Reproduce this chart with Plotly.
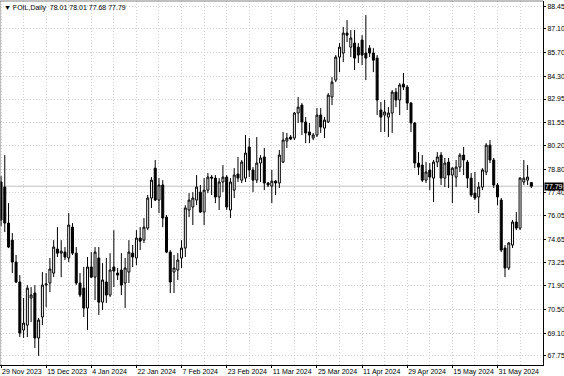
import plotly.graph_objects as go

opens = [78.04, 77.74, 75.61, 74.60, 73.30, 72.12, 69.28, 69.57, 71.17, 71.47,
         68.81, 70.05, 71.94, 72.06, 72.65, 74.07, 73.83, 73.89, 73.54, 75.37,
         73.83, 72.06, 71.76, 70.58, 73.01, 72.41, 73.54, 70.93, 72.12, 71.35,
         73.01, 72.65, 72.83, 72.06, 72.71, 73.83, 73.54, 74.72, 74.60, 75.31,
         77.09, 78.86, 76.97, 77.86, 75.96, 73.89, 72.71, 72.83, 73.54, 74.13,
         76.38, 76.56, 76.97, 77.44, 76.26, 77.56, 78.33, 78.27, 77.15, 78.04,
         78.33, 76.38, 77.56, 78.51, 78.15, 78.27, 80.11, 78.75, 78.15, 79.16,
         79.52, 77.98, 77.80, 78.09, 77.98, 79.22, 80.46, 80.70, 80.64, 82.12,
         82.59, 81.59, 81.00, 80.64, 80.82, 82.00, 81.23, 81.59, 83.07, 84.07,
         85.43, 85.67, 86.85, 86.02, 86.26, 86.02, 86.44, 85.67, 85.96, 85.67,
         85.37, 82.30, 82.00, 81.88, 82.12, 83.36, 82.89, 83.83, 83.66, 82.71,
         81.53, 79.16, 79.04, 78.15, 78.75, 78.27, 79.22, 79.63, 78.27, 79.22,
         78.45, 78.33, 78.92, 79.63, 79.22, 78.27, 77.38, 77.15, 77.74, 78.63,
         80.22, 79.34, 77.86, 76.97, 74.13, 72.95, 74.31, 75.67, 75.31, 78.04,
         78.15, 78.01]
highs = [78.39, 79.63, 76.79, 75.02, 73.72, 72.53, 71.17, 71.94, 71.82, 71.94,
         69.99, 72.71, 72.65, 73.54, 74.60, 75.37, 74.60, 74.19, 76.20, 75.61,
         74.19, 72.65, 73.01, 73.60, 73.89, 74.19, 74.19, 73.24, 73.54, 73.83,
         75.19, 72.95, 73.83, 73.54, 74.60, 74.31, 75.19, 75.37, 75.91, 77.27,
         78.33, 79.34, 78.27, 78.15, 76.09, 74.01, 73.72, 73.83, 74.60, 76.67,
         77.38, 77.44, 78.45, 77.86, 78.27, 78.57, 78.45, 78.45, 78.27, 79.04,
         78.45, 78.27, 78.86, 79.52, 79.34, 80.82, 80.64, 78.92, 80.70, 79.63,
         80.05, 78.04, 78.75, 78.15, 79.93, 81.00, 80.94, 80.82, 82.18, 83.07,
         82.71, 81.88, 81.53, 80.94, 82.41, 82.41, 81.88, 83.30, 84.25, 85.55,
         86.26, 87.21, 87.62, 87.03, 87.03, 86.26, 86.73, 87.92, 86.14, 85.96,
         85.55, 82.77, 82.89, 82.47, 83.48, 83.60, 83.89, 84.49, 83.78, 82.77,
         81.59, 79.81, 79.63, 79.22, 79.16, 79.34, 79.81, 79.81, 79.46, 79.46,
         78.92, 79.34, 79.75, 80.11, 79.34, 78.57, 78.63, 78.04, 78.86, 80.34,
         80.52, 79.46, 77.98, 77.09, 74.31, 74.49, 75.79, 76.26, 78.33, 79.34,
         79.04, 78.01]
lows = [75.43, 75.08, 74.13, 72.65, 72.06, 68.86, 68.81, 68.86, 69.75, 68.21,
        67.75, 69.57, 70.64, 71.53, 72.41, 73.60, 72.41, 73.42, 73.30, 73.72,
        71.94, 71.23, 70.05, 69.28, 72.35, 71.05, 70.17, 70.46, 70.88, 71.23,
        71.82, 72.24, 71.35, 70.58, 72.06, 73.01, 73.12, 74.01, 74.43, 75.19,
        76.50, 76.91, 76.20, 75.37, 73.83, 71.47, 71.47, 72.24, 72.95, 73.60,
        75.96, 75.49, 76.67, 76.20, 75.49, 77.38, 77.27, 76.79, 76.38, 77.44,
        76.38, 75.91, 77.09, 78.04, 77.98, 78.04, 78.33, 77.44, 77.98, 78.04,
        77.56, 77.74, 76.79, 77.27, 77.68, 79.16, 80.05, 80.52, 80.52, 81.53,
        80.82, 80.34, 80.34, 80.52, 80.70, 80.94, 80.64, 81.53, 82.59, 83.95,
        84.54, 85.14, 86.32, 85.43, 84.66, 85.08, 84.96, 84.07, 85.43, 84.54,
        82.00, 81.00, 81.00, 80.70, 80.94, 82.47, 82.00, 83.48, 82.30, 81.00,
        78.86, 78.45, 78.04, 77.98, 77.56, 76.85, 78.92, 77.86, 77.74, 77.68,
        76.79, 77.74, 78.63, 78.45, 77.68, 77.15, 76.97, 76.20, 77.56, 78.45,
        79.16, 77.68, 76.67, 73.89, 72.41, 72.83, 74.13, 75.19, 75.19, 77.86,
        77.86, 77.68]
closes = [75.79, 75.61, 74.19, 73.30, 72.12, 69.10, 69.69, 71.76, 71.35, 68.81,
          69.87, 71.94, 72.00, 72.89, 74.19, 73.83, 73.95, 73.60, 75.49, 73.83,
          72.06, 71.35, 70.58, 73.01, 72.41, 73.89, 70.93, 72.24, 71.35, 72.83,
          72.77, 72.53, 71.94, 72.95, 73.89, 73.60, 74.72, 74.54, 75.37, 77.09,
          78.15, 76.97, 77.86, 75.91, 73.89, 72.12, 72.95, 73.42, 74.13, 76.50,
          76.97, 77.09, 77.74, 76.26, 77.56, 78.33, 78.27, 77.15, 78.04, 78.33,
          76.56, 78.04, 78.45, 78.27, 79.22, 79.75, 78.75, 78.15, 79.16, 79.46,
          77.98, 77.86, 78.09, 77.98, 79.63, 80.52, 80.64, 80.58, 82.12, 82.47,
          81.59, 80.94, 80.82, 80.82, 82.00, 81.29, 81.70, 83.18, 83.95, 85.43,
          86.02, 86.85, 86.73, 86.56, 85.37, 85.55, 85.55, 85.37, 85.67, 85.25,
          82.89, 81.88, 82.18, 82.12, 83.36, 82.89, 83.78, 83.66, 82.71, 81.53,
          79.16, 78.92, 78.15, 78.63, 78.33, 79.22, 79.52, 78.27, 79.16, 78.45,
          78.86, 78.92, 79.63, 79.34, 78.27, 77.27, 77.09, 77.74, 78.75, 80.22,
          79.34, 77.86, 77.15, 74.01, 72.95, 74.43, 75.67, 75.31, 78.27, 78.27,
          78.33, 77.79]

tick_bars = [0, 12, 24, 36, 48, 60, 72, 84, 96, 108, 120, 132]
tick_labels = ["29 Nov 2023", "15 Dec 2023", "4 Jan 2024", "22 Jan 2024",
               "7 Feb 2024", "23 Feb 2024", "11 Mar 2024", "25 Mar 2024",
               "11 Apr 2024", "29 Apr 2024", "15 May 2024", "31 May 2024"]
grid_bars = [6, 18, 30, 42, 54, 66, 78, 90, 102, 114, 126, 138]
price_ticks = [88.45, 87.10, 85.70, 84.30, 82.95, 81.55, 80.20, 78.80,
               77.40, 76.05, 74.65, 73.25, 71.90, 70.50, 69.10, 67.75]
symbol = "FOIL,Daily"

x = list(range(len(opens)))
FONT = "Liberation Sans, DejaVu Sans, sans-serif"
GRID = "#d0d0d0"
DASH = "1px,2px"

fig = go.Figure(go.Candlestick(
    x=x, open=opens, high=highs, low=lows, close=closes,
    increasing=dict(line=dict(color="black", width=1), fillcolor="white"),
    decreasing=dict(line=dict(color="black", width=1), fillcolor="black"),
    whiskerwidth=0, hoverinfo="skip", showlegend=False,
))

last = closes[-1]
fig.update_layout(
    width=564, height=376,
    margin=dict(l=0, r=21, t=1, b=11, autoexpand=False),
    paper_bgcolor="white", plot_bgcolor="white",
    font=dict(family=FONT, size=7, color="black"),
    boxgap=0.25,
    xaxis=dict(
        range=[-0.27, 144.1], tickmode="array", tickvals=tick_bars, ticktext=tick_labels,
        tickangle=0, ticklabelposition="outside right", ticks="outside", ticklen=2,
        tickcolor="black",
        showgrid=True, gridcolor=GRID, griddash=DASH, gridwidth=1,
        minor=dict(tickmode="array", tickvals=grid_bars, showgrid=True, gridcolor=GRID,
                   griddash=DASH, ticks=""),
        showline=True, linecolor="black", linewidth=1, zeroline=False,
        rangeslider=dict(visible=False), tickfont=dict(size=7, family=FONT),
        ticklabelstandoff=0,
        automargin=False, fixedrange=True,
    ),
    yaxis=dict(
        side="right", range=[67.21, 88.75], tickmode="array", tickvals=price_ticks,
        ticktext=[f"{v:.2f}" for v in price_ticks], ticks="outside", ticklen=2,
        tickcolor="black", showgrid=True, gridcolor=GRID, griddash=DASH, gridwidth=1,
        showline=True, linecolor="black", linewidth=1, zeroline=False,
        tickfont=dict(size=7, family=FONT), automargin=False, fixedrange=True,
    ),
    shapes=[
        dict(type="line", xref="paper", yref="y", x0=0, x1=1, y0=last, y1=last,
             line=dict(color="#c0c0c0", width=1), layer="below"),
        dict(type="line", xref="paper", yref="paper", x0=0, x1=0, y0=0, y1=1,
             line=dict(color="#808080", width=1)),
        dict(type="line", xref="paper", yref="paper", x0=0, x1=1, y0=1, y1=1,
             line=dict(color="#808080", width=1)),
    ],
    annotations=[
        dict(xref="paper", yref="y", x=1, y=last, xanchor="left", yanchor="middle",
             text=f"{last:.2f}", showarrow=False, bgcolor="black",
             font=dict(color="white", size=7, family=FONT), borderpad=0, xshift=1),
        dict(xref="paper", yref="paper", x=0, y=1, xanchor="left", yanchor="top",
             text=f"▼ {symbol}  {opens[-1]:.2f} {highs[-1]:.2f} {lows[-1]:.2f} {closes[-1]:.2f}",
             showarrow=False, font=dict(size=7, family=FONT), xshift=2, yshift=-1),
    ],
)

fig.write_html("out.html", config={"displayModeBar": False, "staticPlot": True})
